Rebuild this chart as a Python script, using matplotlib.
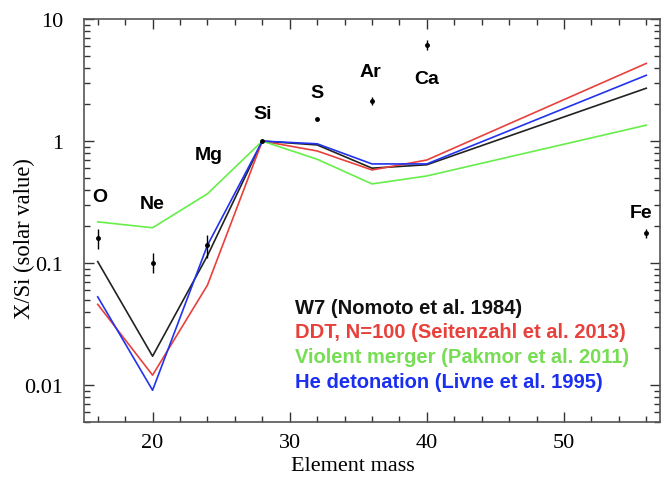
import numpy as np
import matplotlib
matplotlib.use('Agg')
import matplotlib.pyplot as plt
from matplotlib.ticker import LogLocator, MultipleLocator, FixedFormatter, FixedLocator

# element masses and names
mass = [16, 20, 24, 28, 32, 36, 40, 56]
names = ['O', 'Ne', 'Mg', 'Si', 'S', 'Ar', 'Ca', 'Fe']

# observed X/Si (solar) with errors
obs = [0.16, 0.10, 0.14, 1.0, 1.51, 2.12, 6.1, 0.177]
obs_lo = [0.03, 0.017, 0.03, 0.0, 0.03, 0.15, 0.5, 0.015]
obs_hi = [0.03, 0.022, 0.03, 0.0, 0.03, 0.17, 0.6, 0.015]

# model yields
w7 = [0.103, 0.0173, 0.115, 1.0, 0.93, 0.60, 0.64, 2.71]
ddt = [0.046, 0.0121, 0.066, 1.0, 0.83, 0.58, 0.70, 4.33]
merger = [0.218, 0.195, 0.37, 1.0, 0.71, 0.446, 0.518, 1.35]
hedet = [0.053, 0.0091, 0.14, 1.0, 0.95, 0.65, 0.65, 3.46]

models = [
    ('W7 (Nomoto et al. 1984)', w7, '#222222', '#111111'),
    ('DDT, N=100 (Seitenzahl et al. 2013)', ddt, '#e8413c', '#e8413c'),
    ('Violent merger (Pakmor et al. 2011)', merger, '#66ee4a', '#77dd55'),
    ('He detonation (Livne et al. 1995)', hedet, '#2233ee', '#1a2ff0'),
]

# element label positions (data coords)
label_x = [16.17, 20.0, 24.1, 28.0, 32.0, 35.9, 40.0, 55.6]
label_y = [0.349, 0.306, 0.77, 1.69, 2.51, 3.73, 3.27, 0.258]

plt.rcParams['font.family'] = ['Liberation Serif', 'DejaVu Serif']
sans = ['Liberation Sans', 'DejaVu Sans']

fig = plt.figure(figsize=(6.71, 4.81), dpi=100)
ax = fig.add_axes([84 / 671, 1 - 423 / 481, (660 - 84) / 671, (423 - 20) / 481])

for lab, vals, c, tc in models:
    ax.plot(mass, vals, color=c, lw=1.2)

ax.errorbar(mass, obs, yerr=[obs_lo, obs_hi], fmt='o', ms=2.5, color='black',
            elinewidth=1.0, capsize=0)

for x, y, n in zip(label_x, label_y, names):
    ax.text(x, y, n, ha='center', va='center', fontsize=14, fontweight='bold', family=sans)

for i, (lab, vals, c, tc) in enumerate(models):
    ax.text(0.366, 0.285 - i * 0.0613, lab, transform=ax.transAxes, color=tc,
            fontsize=14.5, fontweight='bold', family=sans, ha='left', va='center')

ax.set_yscale('log')
ax.set_xlim(15, 57)
ax.set_ylim(0.005, 10)
ax.xaxis.set_major_locator(FixedLocator([20, 30, 40, 50]))
ax.xaxis.set_minor_locator(MultipleLocator(2))
ax.yaxis.set_major_locator(FixedLocator([0.01, 0.1, 1, 10]))
ax.yaxis.set_major_formatter(FixedFormatter(['0.01', '0.1', '1', '10']))
ax.yaxis.set_minor_locator(LogLocator(base=10, subs=np.arange(2, 10)))
ax.yaxis.set_minor_formatter(FixedFormatter([]))

ax.tick_params(which='both', direction='in', top=True, right=True, colors='#333333',
               labelcolor='black', labelsize=16)
ax.tick_params(which='major', length=7, width=1.0)
ax.tick_params(which='minor', length=4, width=1.0)
ax.tick_params(axis='y', which='major', pad=15)
ax.tick_params(axis='x', which='major', pad=8)
for s in ax.spines.values():
    s.set_color('#555555')
    s.set_linewidth(1.2)

ax.set_xlabel('Element mass', fontsize=16, va='top')
ax.set_ylabel('X/Si (solar value)', fontsize=16.3)
ax.xaxis.set_label_coords(0.467, -0.084)
ax.yaxis.set_label_coords(-0.085, 0.457)

fig.savefig('out.png', dpi=100)
